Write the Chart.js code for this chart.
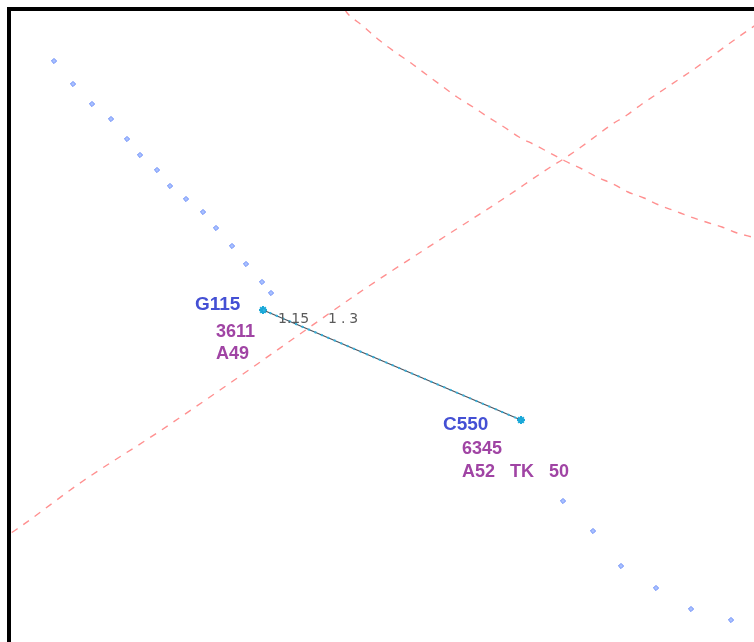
<!DOCTYPE html>
<html>
<head>
<meta charset="utf-8">
<script src="https://cdn.jsdelivr.net/npm/chart.js@4.4.1/dist/chart.umd.min.js"></script>
<style>
  html, body { margin: 0; padding: 0; background: #fff; overflow: hidden; }
  #wrap { width: 754px; height: 642px; position: relative; }
</style>
</head>
<body>
<div id="wrap"><canvas id="radar"></canvas></div>
<script>
// ─── Data (screen units) ─────────────────────────────────────────────────────
const trackX = [54, 73, 92, 111, 127, 140, 157, 170, 186, 203, 216, 232, 246, 262, 271,
                563, 593, 621, 656, 691, 731];
const trackY = [61, 84, 104, 119, 139, 155, 170, 186, 199, 212, 228, 246, 264, 282, 293,
                501, 531, 566, 588, 609, 620];

// rising range ring
const ringAX = [0, 17, 83, 160, 233, 300, 363, 427, 503, 549, 565, 581, 596, 611, 627, 642,
                663, 697, 737, 760];
const ringAY = [540, 529, 481, 431, 381, 334, 290, 248, 199, 168, 158, 147, 136, 125, 115, 104,
                90, 67, 38, 22];

// falling range ring
const ringBX = [345, 348, 363, 379, 395, 411, 427, 442, 457, 473, 488, 504, 519, 535, 550,
                565, 582, 597, 613, 628, 644, 659, 675, 691, 706, 722, 737, 752, 760];
const ringBY = [10, 14, 26, 40, 52, 63, 75, 86, 97, 107, 117, 127, 137, 145, 153,
                161, 169, 177, 184, 192, 198, 205, 211, 217, 222, 227, 233, 237, 239];

const callsigns = ['G115', 'C550'];
const squawks = ['3611', '6345'];
const altitudes = ['A49', 'A52   TK   50'];
const targetX = [263, 521];
const targetY = [310, 420];
const sepLabels = ['1.15', '1.3'];

// label offsets from each target (px)
const labelOffsets = [
  { cs: [-68, 0], l2: [-47, 27], l3: [-47, 49] },
  { cs: [-78, 10], l2: [-59, 34], l3: [-59, 57] },
];

const toPts = (xs, ys) => xs.map((x, i) => ({ x, y: ys[i] }));

// ─── Plugins ─────────────────────────────────────────────────────────────────
// Black display frame along the top and left edges of the plot area
const framePlugin = {
  id: 'radarFrame',
  afterDatasetsDraw(chart) {
    const { ctx, chartArea: a } = chart;
    ctx.save();
    ctx.fillStyle = '#000';
    ctx.fillRect(a.left - 2, a.top - 2, a.right - a.left + 2, 4);
    ctx.fillRect(a.left - 2, a.top - 2, 4, a.bottom - a.top + 2);
    ctx.restore();
  },
};

const labelPlugin = {
  id: 'radarLabels',
  afterDatasetsDraw(chart) {
    const { ctx, scales: { x, y } } = chart;
    ctx.save();
    ctx.textBaseline = 'alphabetic';
    ctx.textAlign = 'left';
    callsigns.forEach((cs, i) => {
      const px = x.getPixelForValue(targetX[i]);
      const py = y.getPixelForValue(targetY[i]);
      const o = labelOffsets[i];
      ctx.font = 'bold 19px "Liberation Sans", Arial, sans-serif';
      ctx.fillStyle = '#4450d4';
      ctx.fillText(cs, px + o.cs[0], py + o.cs[1]);
      ctx.font = 'bold 18px "Liberation Sans", Arial, sans-serif';
      ctx.fillStyle = '#a044a4';
      ctx.fillText(squawks[i], px + o.l2[0], py + o.l2[1]);
      ctx.fillText(altitudes[i], px + o.l3[0], py + o.l3[1]);
    });
    // separation readout next to the vector line
    const sx = x.getPixelForValue(targetX[0]);
    const sy = y.getPixelForValue(targetY[0]);
    ctx.font = '14px "DejaVu Sans", sans-serif';
    ctx.fillStyle = '#5a5a5a';
    ctx.fillText(sepLabels[0], sx + 15, sy + 13);
    ctx.letterSpacing = '4px';
    ctx.fillText(sepLabels[1], sx + 65, sy + 13);
    ctx.restore();
  },
};

new Chart(document.getElementById('radar'), {
  type: 'scatter',
  data: {
    datasets: [
      {
        label: 'ring A',
        data: toPts(ringAX, ringAY),
        showLine: true,
        cubicInterpolationMode: 'monotone',
        clip: 0,
        borderColor: '#ff9090',
        borderWidth: 1.4,
        borderDash: [7, 7],
        pointRadius: 0,
      },
      {
        label: 'ring B',
        data: toPts(ringBX, ringBY),
        showLine: true,
        cubicInterpolationMode: 'monotone',
        clip: 0,
        borderColor: '#ff9090',
        borderWidth: 1.4,
        borderDash: [7, 7],
        pointRadius: 0,
      },
      {
        label: 'history',
        data: toPts(trackX, trackY),
        pointStyle: 'rectRot',
        pointRadius: 2.6,
        backgroundColor: '#a8c0ff',
        borderColor: '#6a8cf8',
        borderWidth: 1,
      },
      {
        label: 'vector dots',
        data: toPts(targetX, targetY),
        showLine: true,
        borderColor: '#33b4e0',
        borderWidth: 2,
        borderDash: [2, 5],
        pointRadius: 0,
      },
      {
        label: 'vector',
        data: toPts(targetX, targetY),
        showLine: true,
        borderColor: '#4a5560',
        borderWidth: 1.2,
        pointStyle: 'star',
        pointRadius: 4,
        pointBorderColor: '#1aa8d8',
        pointBorderWidth: 2,
      },
    ],
  },
  options: {
    responsive: true,
    maintainAspectRatio: false,
    animation: false,
    layout: { autoPadding: false, padding: { left: 9, top: 9, right: 0, bottom: 0 } },
    plugins: {
      legend: { display: false },
      tooltip: { enabled: false },
    },
    scales: {
      x: { type: 'linear', display: false, min: 9, max: 754 },
      y: { type: 'linear', display: false, reverse: true, min: 9, max: 642 },
    },
  },
  plugins: [framePlugin, labelPlugin],
});
</script>
</body>
</html>
